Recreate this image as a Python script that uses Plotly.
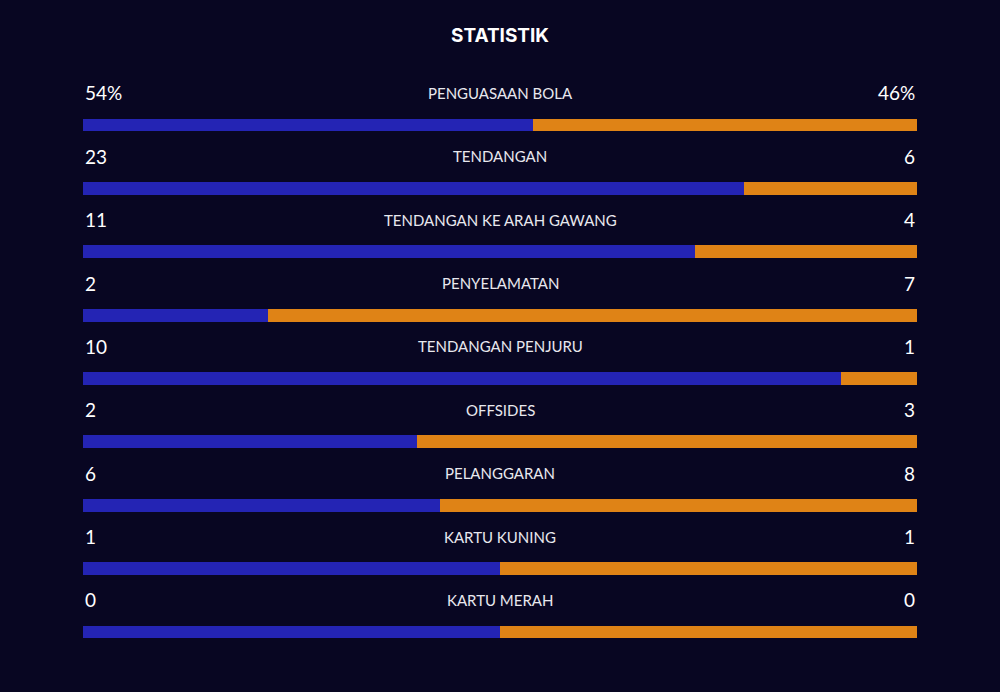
import plotly.graph_objects as go

labels = ["PENGUASAAN BOLA", "TENDANGAN", "TENDANGAN KE ARAH GAWANG", "PENYELAMATAN",
          "TENDANGAN PENJURU", "OFFSIDES", "PELANGGARAN", "KARTU KUNING", "KARTU MERAH"]
home = [54, 23, 11, 2, 10, 2, 6, 1, 0]
away = [46, 6, 4, 7, 1, 3, 8, 1, 0]
home_text = ["54%", "23", "11", "2", "10", "2", "6", "1", "0"]
away_text = ["46%", "6", "4", "7", "1", "3", "8", "1", "0"]

BG = "#080622"
BLUE = "#2424b4"
ORANGE = "#df8316"

home_share = [h / (h + a) if (h + a) else 0.5 for h, a in zip(home, away)]
away_share = [1 - s for s in home_share]
rows = list(range(len(labels)))

fig = go.Figure()
fig.add_bar(y=rows, x=home_share, orientation="h", marker=dict(color=BLUE, line=dict(width=0)),
            width=0.205, hoverinfo="skip")
fig.add_bar(y=rows, x=away_share, orientation="h", marker=dict(color=ORANGE, line=dict(width=0)),
            width=0.205, hoverinfo="skip")

off = 0.505
for i, lab in enumerate(labels):
    fig.add_annotation(x=0, y=i - off, text=home_text[i], xref="x", yref="y", xanchor="left",
                       yanchor="middle", showarrow=False, font=dict(family="Lato", size=19, color="#ffffff"))
    fig.add_annotation(x=1, y=i - off, text=away_text[i], xref="x", yref="y", xanchor="right",
                       yanchor="middle", showarrow=False, font=dict(family="Lato", size=19, color="#ffffff"))
    fig.add_annotation(x=0.5, y=i - off, text=lab, xref="x", yref="y", xanchor="center",
                       yanchor="middle", showarrow=False, font=dict(family="Lato", size=15, color="#e8e8ee"))

fig.update_layout(
    barmode="stack",
    width=1000, height=692,
    paper_bgcolor=BG, plot_bgcolor=BG,
    margin=dict(l=83, r=83, t=60, b=40),
    showlegend=False,
    title=dict(text="<b>STATISTIK</b>", x=0.5, xanchor="center", y=1 - 35 / 692, yanchor="middle",
               font=dict(family="Inter", size=19, color="#ffffff")),
    xaxis=dict(range=[0, 1], visible=False, fixedrange=True),
    yaxis=dict(range=[8.3156, -1.0256], visible=False, fixedrange=True),
)

fig.write_html("out.html", config={"displayModeBar": False})
